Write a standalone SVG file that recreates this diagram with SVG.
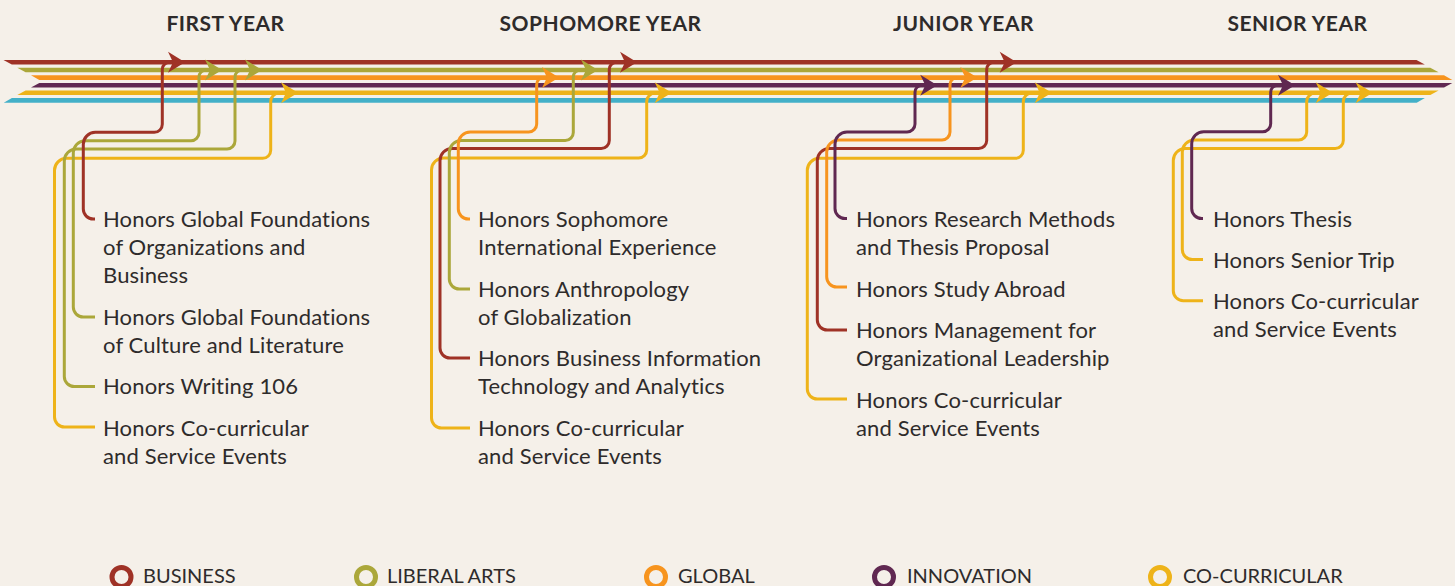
<svg xmlns="http://www.w3.org/2000/svg" width="1455" height="586" viewBox="0 0 1455 586">
<defs>
<style>
.lbl{font-family:Lato,"Liberation Sans",sans-serif;font-size:22px;fill:#2e2b2b;letter-spacing:0.15px}
.hd{font-family:Lato,"Liberation Sans",sans-serif;font-size:21px;font-weight:700;fill:#2e2b2b;text-anchor:middle;letter-spacing:0.5px}
.lg{font-family:Lato,"Liberation Sans",sans-serif;font-size:20px;fill:#2e2b2b}
.c{fill:none;stroke-width:3;stroke-linejoin:round}
.bus{stroke:#9f3226}.lib{stroke:#aba73a}.glo{stroke:#f7941e}.inn{stroke:#602851}.cur{stroke:#eeb319}
.ring{fill:none;stroke-width:5}
</style>
<path id="ah" d="M0,0 L-17,-10.5 L-12,0 L-17,10.5 Z"/>
</defs>
<rect width="1455" height="586" fill="#f5f0e9"/>
<g id="headings">
<text class="hd" x="225.5" y="31">FIRST YEAR</text>
<text class="hd" x="600.5" y="31">SOPHOMORE YEAR</text>
<text class="hd" x="963.5" y="31">JUNIOR YEAR</text>
<text class="hd" x="1297.5" y="31">SENIOR YEAR</text>
</g>
<g id="stripes">
<polygon fill="#9f3226" points="3.5,60 1416.5,60 1424.8,64.6 11.8,64.6"/>
<polygon fill="#aba73a" points="17.3,67.7 1430.3,67.7 1438.6,72.3 25.6,72.3"/>
<polygon fill="#f7941e" points="31,75.3 1444,75.3 1452.3,79.9 39.3,79.9"/>
<polygon fill="#602851" points="39.3,82.9 1452.3,82.9 1444,87.5 31,87.5"/>
<polygon fill="#eeb319" points="25.6,90.5 1438.6,90.5 1430.3,95.1 17.3,95.1"/>
<polygon fill="#43b0c8" points="11.9,98.1 1424.9,98.1 1416.7,102.7 3.7,102.7"/>
</g>
<g id="connectors">
<path class="c cur" d="M95,427 H64.5 A10 10 0 0 1 54.5,417 V170.3 A12 12 0 0 1 66.5,158.3 H262.7 A8 8 0 0 0 270.7,150.3 V101.7 A9 9 0 0 1 279.7,92.7 H286"/>
<path class="c lib" d="M95,386.5 H74.3 A10 10 0 0 1 64.3,376.5 V161 A12 12 0 0 1 76.3,149 H227 A8 8 0 0 0 235,141 V77 A7 7 0 0 1 242,70 H250"/>
<path class="c lib" d="M95,317 H83.3 A10 10 0 0 1 73.3,307 V152.7 A12 12 0 0 1 85.3,140.7 H191 A8 8 0 0 0 199,132.7 V77 A7 7 0 0 1 206,70 H210"/>
<path class="c bus" d="M95,219 H93.3 A10 10 0 0 1 83.3,209 V144.3 A12 12 0 0 1 95.3,132.3 H154.3 A8 8 0 0 0 162.3,124.3 V69.3 A7 7 0 0 1 169.3,62.3 H173"/>
<use href="#ah" x="185" y="62.3" fill="#9f3226"/>
<use href="#ah" x="222" y="70" fill="#aba73a"/>
<use href="#ah" x="262" y="70" fill="#aba73a"/>
<use href="#ah" x="298" y="92.7" fill="#eeb319"/>

<path class="c cur" d="M470,428 H441.5 A10 10 0 0 1 431.5,418 V170 A12 12 0 0 1 443.5,158 H638.7 A8 8 0 0 0 646.7,150 V101.7 A9 9 0 0 1 655.7,92.7 H660"/>
<path class="c bus" d="M470,358 H450 A10 10 0 0 1 440,348 V160.5 A12 12 0 0 1 452,148.5 H601.3 A8 8 0 0 0 609.3,140.5 V69.3 A7 7 0 0 1 616.3,62.3 H625"/>
<path class="c lib" d="M470,289 H459.3 A10 10 0 0 1 449.3,279 V152.5 A12 12 0 0 1 461.3,140.5 H565.3 A8 8 0 0 0 573.3,132.5 V77 A7 7 0 0 1 580.3,70 H586"/>
<path class="c glo" d="M470,219 H468.3 A10 10 0 0 1 458.3,209 V144 A12 12 0 0 1 470.3,132 H528.7 A8 8 0 0 0 536.7,124 V84.5 A7 7 0 0 1 543.7,77.5 H547"/>
<use href="#ah" x="559" y="77.6" fill="#f7941e"/>
<use href="#ah" x="598" y="70" fill="#aba73a"/>
<use href="#ah" x="637" y="62.3" fill="#9f3226"/>
<use href="#ah" x="671.7" y="92.7" fill="#eeb319"/>

<path class="c cur" d="M847,399 H817.3 A10 10 0 0 1 807.3,389 V170.3 A12 12 0 0 1 819.3,158.3 H1015.3 A8 8 0 0 0 1023.3,150.3 V101.7 A9 9 0 0 1 1032.3,92.7 H1040"/>
<path class="c bus" d="M847,330 H827.3 A10 10 0 0 1 817.3,320 V160.5 A12 12 0 0 1 829.3,148.5 H978.7 A8 8 0 0 0 986.7,140.5 V69.3 A7 7 0 0 1 993.7,62.3 H1005"/>
<path class="c glo" d="M847,287 H836.7 A10 10 0 0 1 826.7,277 V152 A12 12 0 0 1 838.7,140 H942 A8 8 0 0 0 950,132 V84.6 A7 7 0 0 1 957,77.6 H965"/>
<path class="c inn" d="M847,218.5 H845 A10 10 0 0 1 835,208.5 V144 A12 12 0 0 1 847,132 H907 A8 8 0 0 0 915,124 V92.2 A7 7 0 0 1 922,85.2 H925.5"/>
<use href="#ah" x="937.3" y="85.2" fill="#602851"/>
<use href="#ah" x="977.3" y="77.6" fill="#f7941e"/>
<use href="#ah" x="1016.7" y="62.3" fill="#9f3226"/>
<use href="#ah" x="1051.7" y="92.7" fill="#eeb319"/>

<path class="c cur" d="M1203,300.7 H1183.3 A10 10 0 0 1 1173.3,290.7 V160.5 A12 12 0 0 1 1185.3,148.5 H1335.3 A8 8 0 0 0 1343.3,140.5 V101.7 A9 9 0 0 1 1352.3,92.7 H1361"/>
<path class="c cur" d="M1203,259.5 H1192.3 A10 10 0 0 1 1182.3,249.5 V152 A12 12 0 0 1 1194.3,140 H1298.7 A8 8 0 0 0 1306.7,132 V101.7 A9 9 0 0 1 1315.7,92.7 H1321"/>
<path class="c inn" d="M1203,218.5 H1201.7 A10 10 0 0 1 1191.7,208.5 V143.7 A12 12 0 0 1 1203.7,131.7 H1262.7 A8 8 0 0 0 1270.7,123.7 V92.2 A7 7 0 0 1 1277.7,85.2 H1283"/>
<use href="#ah" x="1295" y="85.2" fill="#602851"/>
<use href="#ah" x="1332.7" y="92.7" fill="#eeb319"/>
<use href="#ah" x="1372.7" y="92.7" fill="#eeb319"/>
</g>
<g id="first-year">
<text class="lbl" x="103" y="227">Honors Global Foundations</text>
<text class="lbl" x="103" y="255">of Organizations and</text>
<text class="lbl" x="103" y="283">Business</text>
<text class="lbl" x="103" y="325">Honors Global Foundations</text>
<text class="lbl" x="103" y="353">of Culture and Literature</text>
<text class="lbl" x="103" y="394">Honors Writing 106</text>
<text class="lbl" x="103" y="436">Honors Co-curricular</text>
<text class="lbl" x="103" y="464">and Service Events</text>
</g>
<g id="sophomore-year">
<text class="lbl" x="478" y="227">Honors Sophomore</text>
<text class="lbl" x="478" y="255">International Experience</text>
<text class="lbl" x="478" y="297">Honors Anthropology</text>
<text class="lbl" x="478" y="325">of Globalization</text>
<text class="lbl" x="478" y="366">Honors Business Information</text>
<text class="lbl" x="478" y="394">Technology and Analytics</text>
<text class="lbl" x="478" y="436">Honors Co-curricular</text>
<text class="lbl" x="478" y="464">and Service Events</text>
</g>
<g id="junior-year">
<text class="lbl" x="856" y="227">Honors Research Methods</text>
<text class="lbl" x="856" y="255">and Thesis Proposal</text>
<text class="lbl" x="856" y="297">Honors Study Abroad</text>
<text class="lbl" x="856" y="338">Honors Management for</text>
<text class="lbl" x="856" y="366">Organizational Leadership</text>
<text class="lbl" x="856" y="408">Honors Co-curricular</text>
<text class="lbl" x="856" y="436">and Service Events</text>
</g>
<g id="senior-year">
<text class="lbl" x="1213" y="227">Honors Thesis</text>
<text class="lbl" x="1213" y="268">Honors Senior Trip</text>
<text class="lbl" x="1213" y="309">Honors Co-curricular</text>
<text class="lbl" x="1213" y="337">and Service Events</text>
</g>
<g id="legend">
<circle class="ring" cx="121.5" cy="577" r="9.5" stroke="#9f3226"/>
<text class="lg" x="143" y="583">BUSINESS</text>
<circle class="ring" cx="366" cy="577" r="9.5" stroke="#aba73a"/>
<text class="lg" x="387" y="583">LIBERAL ARTS</text>
<circle class="ring" cx="656" cy="577" r="9.5" stroke="#f7941e"/>
<text class="lg" x="678" y="583">GLOBAL</text>
<circle class="ring" cx="884" cy="577" r="9.5" stroke="#602851"/>
<text class="lg" x="907" y="583">INNOVATION</text>
<circle class="ring" cx="1160" cy="577" r="9.5" stroke="#eeb319"/>
<text class="lg" x="1183" y="583">CO-CURRICULAR</text>
</g>
</svg>
